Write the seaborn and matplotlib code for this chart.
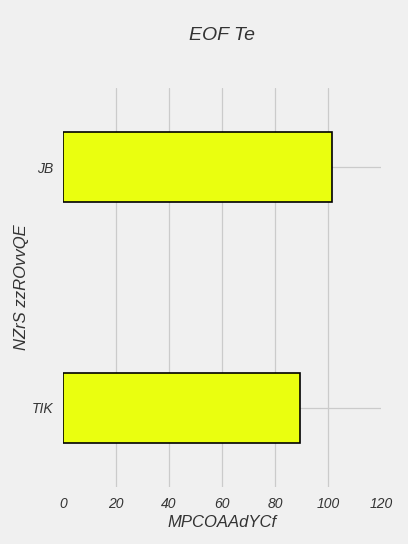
import matplotlib
matplotlib.use('Agg')
import matplotlib.pyplot as plt
import pandas as pd
import seaborn as sns

# dados
categorias = ['JB', 'TIK']
valores = [101.5, 89.5]

titulo = 'EOF Te'
rotulo_x = 'MPCOAAdYCf'
rotulo_y = 'NZrS zzROvvQE'

sns.set_style('whitegrid')
plt.rcParams['font.family'] = ['Liberation Sans', 'DejaVu Sans']
plt.rcParams['font.style'] = 'italic'

df = pd.DataFrame({'cat': categorias, 'val': valores})

fig = plt.figure(figsize=(4.08, 5.44), dpi=100, facecolor='#f0f0f0')
ax = fig.add_axes([63 / 408, 1 - 487 / 544, 318 / 408, 399 / 544])
ax.set_facecolor('#f0f0f0')

sns.barplot(data=df, x='val', y='cat', orient='h', color='#eaff0f',
            width=0.29, edgecolor='black', linewidth=1.2, saturation=1, ax=ax)

ax.set_xlim(0, 120)
ax.set_ylim(1.33, -0.33)
ax.set_xticks([0, 20, 40, 60, 80, 100, 120])
ax.grid(True, color='#cbcbcb', linewidth=0.9)
ax.set_axisbelow(True)
# sem linha de grade nas bordas (0 e 120)
gl = ax.get_xgridlines()
gl[0].set_visible(False)
gl[-1].set_visible(False)
for s in ax.spines.values():
    s.set_visible(False)
ax.tick_params(axis='both', length=0, labelsize=10, colors='#333333')
ax.tick_params(axis='x', pad=7)
ax.tick_params(axis='y', pad=7)

ax.set_xlabel(rotulo_x, fontsize=12, color='#333333', style='italic', labelpad=3)
ax.set_ylabel(rotulo_y, fontsize=12, color='#333333', style='italic', labelpad=2)
fig.suptitle(titulo, x=222 / 408, y=1 - 35 / 544, va='center', fontsize=14,
             color='#333333', style='italic')

fig.savefig('out.png', dpi=100, facecolor='#f0f0f0')
